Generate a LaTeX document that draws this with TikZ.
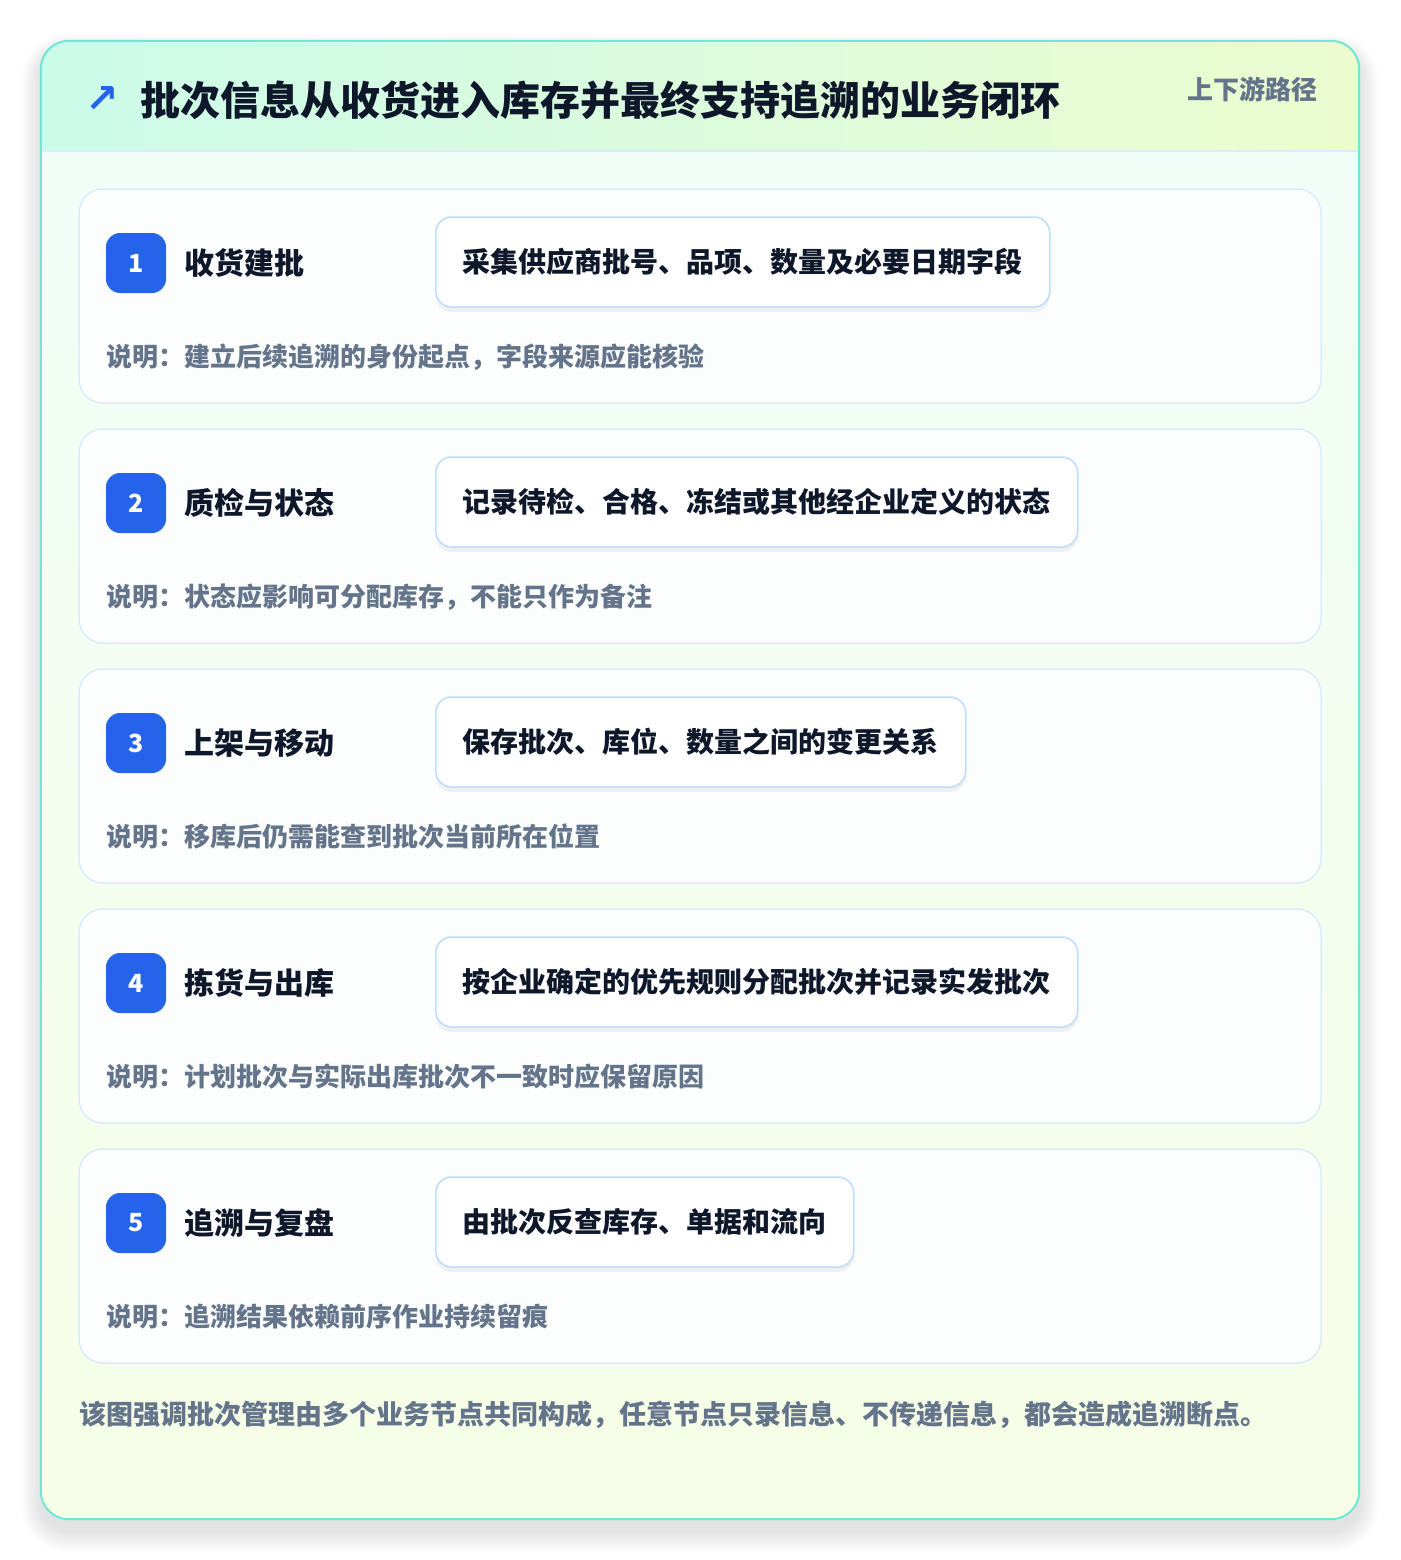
\documentclass[tikz,border=0pt]{standalone}
\usepackage{fontspec}
\setmainfont{Noto Sans CJK SC}
\newfontfamily\symfont{DejaVu Sans}
\usetikzlibrary{shadows}

\definecolor{inkdark}{HTML}{0F172A}
\definecolor{inkgray}{HTML}{64748B}
\definecolor{badgeblue}{HTML}{2563EB}
\definecolor{rimteal}{HTML}{6EE7D4}
\definecolor{cardrim}{HTML}{DBEAFE}
\definecolor{boxrim}{HTML}{BFDBFE}
\definecolor{headleft}{HTML}{CCFBEA}
\definecolor{headright}{HTML}{ECFCCF}
\definecolor{bodytop}{HTML}{F0FDF8}
\definecolor{bodybot}{HTML}{F7FEE7}
\definecolor{cardfill}{HTML}{FCFEFD}

\tikzset{
	txt/.style={inner sep=0pt},
	frame/.style={minimum width=1318pt, minimum height=1478pt, inner sep=0pt, rounded corners=28pt,
		top color=bodytop, bottom color=bodybot},
	card/.style={draw=cardrim, line width=1.5pt, fill=cardfill, rounded corners=24pt,
		minimum width=1242pt, minimum height=214pt, inner sep=0pt},
	badge/.style={fill=badgeblue, rounded corners=14pt, minimum size=60pt, inner sep=0pt,
		text=white, font=\fontsize{25}{25}\selectfont\bfseries},
	steptitle/.style={txt, anchor=west, text=inkdark, font=\fontsize{30}{30}\selectfont\bfseries},
	detail/.style={anchor=west, draw=boxrim, line width=1.5pt, fill=white, rounded corners=16pt,
		minimum height=90pt, inner xsep=27pt, inner ysep=0pt, text=inkdark, font=\fontsize{28}{28}\selectfont\bfseries,
		drop shadow={shadow xshift=0pt, shadow yshift=-5pt, opacity=0.05, fill=black}},
	note/.style={txt, anchor=west, text=inkgray, font=\fontsize{26}{26}\selectfont\bfseries}
}

\begin{document}
\begin{tikzpicture}[x=1pt, y=-1pt]
			\useasboundingbox[fill=white] (0,0) rectangle (1400,1560);

			% soft shadow under the frame
			\foreach \g in {1,...,14}
				\fill[black, opacity=0.006, rounded corners=28pt+1.5*\g pt]
					(41-1.5*\g,51-1.2*\g) rectangle (1359+1.5*\g,1531+1.5*\g);

			% outer frame and header band
			\node (frame) at (700,780) [frame] {};
			\begin{scope}
				\clip[rounded corners=28pt] (frame.north west) rectangle (frame.south east);
				\shade[left color=headleft, right color=headright] (frame.north west) rectangle (1359,151);
			\end{scope}
			\draw[cardrim, line width=1.5pt] (41,151) -- (1359,151);
			\draw[rimteal, line width=2pt, rounded corners=28pt] (frame.north west) rectangle (frame.south east);

			\node (icon) at (102,100) [text=badgeblue, inner sep=0pt, font=\symfont\fontsize{40}{40}\selectfont\bfseries] {↗};
			\node (title) at (140,100) [txt, anchor=west, text=inkdark, font=\fontsize{40}{40}\selectfont\bfseries] {批次信息从收货进入库存并最终支持追溯的业务闭环};
			\node (tag) at (1318,89) [txt, anchor=east, text=inkgray, font=\fontsize{26}{26}\selectfont\bfseries] {上下游路径};

			% step 1
			\node (c1) at (700,296) [card] {};
			\node (b1) at (136,263) [badge] {1};
			\node (t1) at ([xshift=18pt]b1.east) [steptitle] {收货建批};
			\node (d1) at (435,262) [detail] {采集供应商批号、品项、数量及必要日期字段};
			\node (n1) at (106,357) [note] {说明：建立后续追溯的身份起点，字段来源应能核验};

			% step 2
			\node (c2) at (700,536) [card] {};
			\node (b2) at (136,503) [badge] {2};
			\node (t2) at ([xshift=18pt]b2.east) [steptitle] {质检与状态};
			\node (d2) at (435,502) [detail] {记录待检、合格、冻结或其他经企业定义的状态};
			\node (n2) at (106,597) [note] {说明：状态应影响可分配库存，不能只作为备注};

			% step 3
			\node (c3) at (700,776) [card] {};
			\node (b3) at (136,743) [badge] {3};
			\node (t3) at ([xshift=18pt]b3.east) [steptitle] {上架与移动};
			\node (d3) at (435,742) [detail] {保存批次、库位、数量之间的变更关系};
			\node (n3) at (106,837) [note] {说明：移库后仍需能查到批次当前所在位置};

			% step 4
			\node (c4) at (700,1016) [card] {};
			\node (b4) at (136,983) [badge] {4};
			\node (t4) at ([xshift=18pt]b4.east) [steptitle] {拣货与出库};
			\node (d4) at (435,982) [detail] {按企业确定的优先规则分配批次并记录实发批次};
			\node (n4) at (106,1077) [note] {说明：计划批次与实际出库批次不一致时应保留原因};

			% step 5
			\node (c5) at (700,1256) [card] {};
			\node (b5) at (136,1223) [badge] {5};
			\node (t5) at ([xshift=18pt]b5.east) [steptitle] {追溯与复盘};
			\node (d5) at (435,1222) [detail] {由批次反查库存、单据和流向};
			\node (n5) at (106,1317) [note] {说明：追溯结果依赖前序作业持续留痕};

			\node (foot) at (79,1415) [txt, anchor=west, text=inkgray, font=\fontsize{27}{27}\selectfont\bfseries] {该图强调批次管理由多个业务节点共同构成，任意节点只录信息、不传递信息，都会造成追溯断点。};
		\end{tikzpicture}
\end{document}
